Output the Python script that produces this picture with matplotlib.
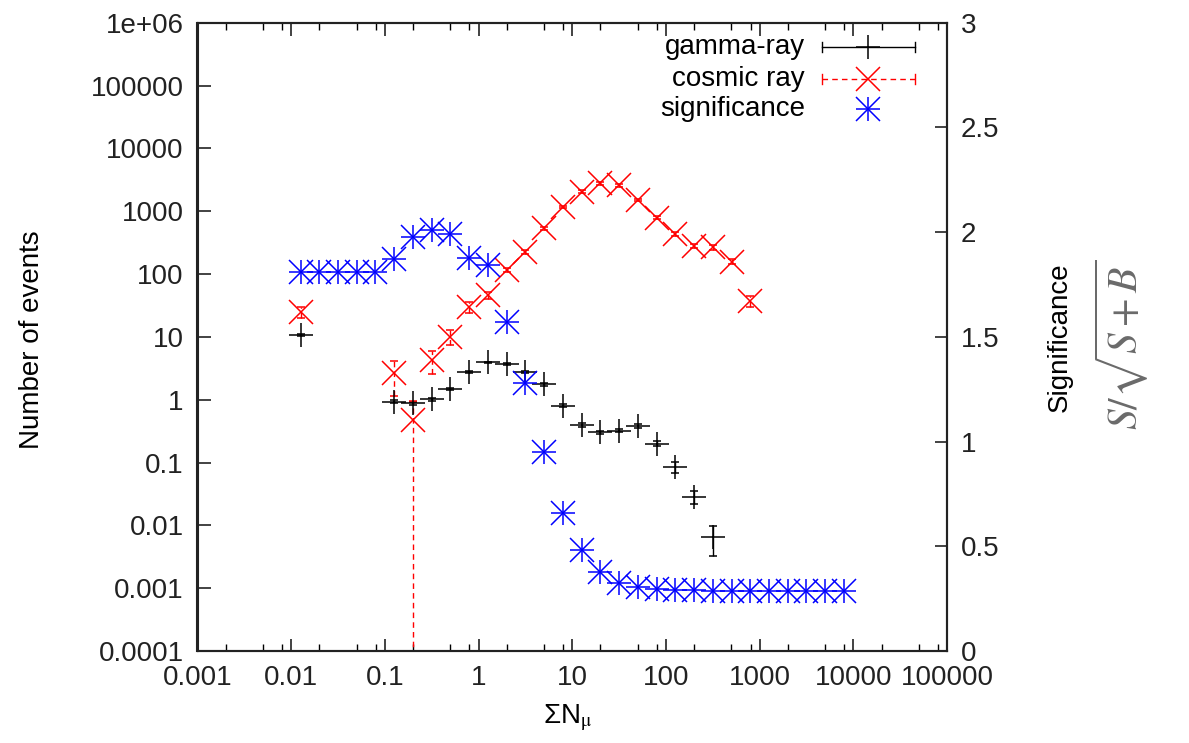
import matplotlib
matplotlib.use("Agg")
import matplotlib.pyplot as plt
from matplotlib.ticker import FixedLocator, NullFormatter

plt.rcParams["font.family"] = ["Liberation Sans", "DejaVu Sans"]

# gamma-ray events
gamma_x = [0.0126, 0.126, 0.2, 0.316, 0.501, 0.794, 1.26, 2.0, 3.16, 5.01,
           7.94, 12.6, 20.0, 31.6, 50.1, 79.4, 126, 200, 316]
gamma_y = [10.7, 0.93, 0.875, 1.02, 1.46, 2.79, 3.93, 3.66, 2.73, 1.76,
           0.80, 0.395, 0.303, 0.321, 0.381, 0.2, 0.0858, 0.0286, 0.0066]
gamma_err = [0.5, 0.05, 0.05, 0.05, 0.06, 0.1, 0.12, 0.12, 0.1, 0.08,
             0.04, 0.025, 0.02, 0.02, 0.025, 0.018, 0.017, 0.007, 0.0033]

# cosmic ray events
cosmic_x = [0.0126, 0.126, 0.2, 0.316, 0.501, 0.794, 1.26, 2.0, 3.16, 5.01,
            7.94, 12.6, 20.0, 31.6, 50.1, 79.4, 126, 200, 316, 501, 794]
cosmic_y = [24.6, 2.63, 0.474, 4.28, 10.0, 30.2, 46.3, 116, 226, 535,
            1180, 2040, 2780, 2580, 1507, 788, 433, 279, 266, 157, 37]
cosmic_err = [5, 1.5, 0.474, 1.7, 2.7, 6, 6, 10, 15, 25,
              40, 100, 140, 130, 80, 45, 30, 22, 22, 15, 7]

# significance S/sqrt(S+B)
sig_x = [0.0126, 0.02, 0.0316, 0.0501, 0.0794, 0.126, 0.2, 0.316, 0.501, 0.794,
         1.26, 2.0, 3.16, 5.01, 7.94, 12.6, 20.0, 31.6, 50.1, 79.4,
         126, 200, 316, 501, 794, 1260, 2000, 3160, 5010, 7940]
sig_y = [1.81, 1.81, 1.81, 1.81, 1.81, 1.87, 1.975, 2.01, 1.99, 1.875,
         1.845, 1.57, 1.28, 0.95, 0.66, 0.48, 0.375, 0.325, 0.305, 0.297,
         0.292, 0.289, 0.286, 0.285, 0.285, 0.285, 0.285, 0.285, 0.285, 0.285]

xticks = [1e-3, 1e-2, 1e-1, 1, 10, 100, 1e3, 1e4, 1e5]
xticklabels = ["0.001", "0.01", "0.1", "1", "10", "100", "1000", "10000", "100000"]
yticks = [1e-4, 1e-3, 1e-2, 1e-1, 1, 10, 100, 1e3, 1e4, 1e5, 1e6]
yticklabels = ["0.0001", "0.001", "0.01", "0.1", "1", "10", "100", "1000",
               "10000", "100000", "1e+06"]
y2ticks = [0, 0.5, 1, 1.5, 2, 2.5, 3]
y2ticklabels = ["0", "0.5", "1", "1.5", "2", "2.5", "3"]

W, H = 1189, 743
fig = plt.figure(figsize=(W / 100, H / 100), dpi=100)
ax = fig.add_axes([197.5 / W, 1 - 651 / H, 749.5 / W, 628.3 / H])
ax2 = ax.twinx()

fs = 20
ax.set_xscale("log")
ax.set_yscale("log")
ax.set_xlim(1e-3, 1e5)
ax.set_ylim(1e-4, 1e6)
ax.set_xticks(xticks)
ax.set_xticklabels(xticklabels, fontsize=fs)
ax.set_yticks(yticks)
ax.set_yticklabels(yticklabels, fontsize=fs)
minors = [m * 10.0 ** e for e in range(-3, 5) for m in (2, 5, 8)]
ax.xaxis.set_minor_locator(FixedLocator(minors))
ax.xaxis.set_minor_formatter(NullFormatter())
ax.yaxis.set_minor_locator(FixedLocator([]))
ax.tick_params(axis="both", which="major", direction="in", length=9, width=1.2,
               top=True, right=False, pad=10, colors="#222")
ax.tick_params(axis="x", which="minor", direction="in", length=5, width=1.0, top=True)

ax2.set_ylim(0, 3)
ax2.set_yticks(y2ticks)
ax2.set_yticklabels(y2ticklabels, fontsize=fs)
ax2.tick_params(axis="y", direction="in", length=9, width=1.2, pad=10, colors="#222")

for a in (ax, ax2):
    for s in a.spines.values():
        s.set_linewidth(1.5)
        s.set_color("#222")

# data
ax.errorbar(gamma_x, gamma_y, yerr=gamma_err, fmt="+", color="black", ms=17,
            mew=1.1, elinewidth=1.0, capsize=3, capthick=1.0, zorder=3)
eb = ax.errorbar(cosmic_x, cosmic_y,
                 yerr=[[v - 1e-12 if e >= v else e for v, e in zip(cosmic_y, cosmic_err)],
                       cosmic_err],
                 fmt="x", color="#ff0000", ms=17, mew=1.1, elinewidth=1.0,
                 capsize=3, capthick=1.0, zorder=3)
for c in eb[2]:
    c.set_linestyle((0, (4, 3)))
ax2.plot(sig_x, sig_y, "+", color="#0000ff", ms=17, mew=1.1, linestyle="none")
ax2.plot(sig_x, sig_y, "x", color="#0000ff", ms=17, mew=1.1, linestyle="none")

# legend (gnuplot style, drawn by hand)
tr = ax2.transAxes
lx0, lx1, lxm, ltx = 0.8336, 0.9573, 0.8946, 0.8105
ly = [0.9613, 0.910, 0.8626]
ax2.plot([lx0, lx1], [ly[0], ly[0]], color="black", lw=1.0, transform=tr)
for xx in (lx0, lx1):
    ax2.plot([xx, xx], [ly[0] - 0.008, ly[0] + 0.008], color="black", lw=1.0, transform=tr)
ax2.plot([lxm], [ly[0]], "+", color="black", ms=17, mew=1.1, transform=tr)
ax2.plot([lx0, lx1], [ly[1], ly[1]], color="#ff0000", lw=1.0, ls=(0, (4, 3)), transform=tr)
for xx in (lx0, lx1):
    ax2.plot([xx, xx], [ly[1] - 0.008, ly[1] + 0.008], color="#ff0000", lw=1.0, transform=tr)
ax2.plot([lxm], [ly[1]], "x", color="#ff0000", ms=17, mew=1.1, transform=tr)
ax2.plot([lxm], [ly[2]], "+", color="#0000ff", ms=17, mew=1.1, transform=tr)
ax2.plot([lxm], [ly[2]], "x", color="#0000ff", ms=17, mew=1.1, transform=tr)
for yy, lab in zip(ly, ["gamma-ray", "cosmic ray", "significance"]):
    ax2.text(ltx, yy, lab, transform=tr, ha="right", va="center", fontsize=fs)

# axis labels
fig.text(32 / W, 1 - 340 / H, "Number of events", rotation=90, ha="center",
         va="center", fontsize=fs)
fig.text(568 / W, 1 - 718 / H, r"ΣN$_\mathrm{\mu}$", ha="center", va="center",
         fontsize=fs, math_fontfamily="stix")
fig.text(1060 / W, 1 - 337 / H, "Significance", rotation=90, ha="center",
         va="center", fontsize=fs)
fig.text(1122 / W, 1 - 345 / H, r"$S/\sqrt{S+B}$", rotation=90, ha="center",
         va="center", fontsize=30, color="#6a6a6a", math_fontfamily="stix")

fig.savefig("out.png", dpi=100)
